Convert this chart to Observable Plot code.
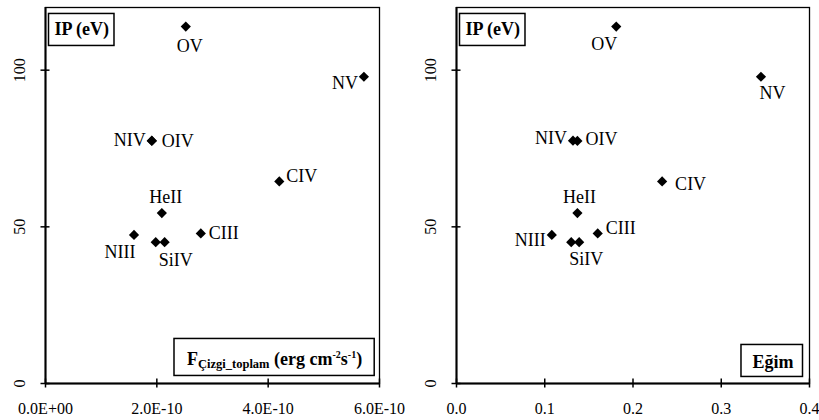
<!DOCTYPE html>
<html><head><meta charset="utf-8">
<script src="https://cdn.jsdelivr.net/npm/d3@7"></script>
<script src="https://cdn.jsdelivr.net/npm/@observablehq/plot@0.6"></script>
<style>
body{margin:0;background:#fff;}
#wrap{display:flex;width:819px;height:420px;overflow:hidden;}
#wrap svg{font-family:"Liberation Serif","Times New Roman",serif;overflow:visible;}
</style></head><body><div id="wrap"></div>
<script>
// ---- data ----
const ions = ["OV","NV","NIV","OIV","CIV","HeII","CIII","NIII","SiIV","SiIV"];
const ipValues = [113.9, 97.9, 77.5, 77.4, 64.5, 54.4, 47.9, 47.4, 45.1, 45.1];
const fluxValues = [2.52e-10, 5.72e-10, 1.91e-10, 1.91e-10, 4.20e-10, 2.09e-10, 2.79e-10, 1.59e-10, 1.98e-10, 2.14e-10];
const slopeValues = [0.181, 0.345, 0.132, 0.137, 0.233, 0.137, 0.160, 0.108, 0.130, 0.139];
const yTicks = [0, 50, 100];
const fluxTicks = [0, 2e-10, 4e-10, 6e-10];
const fluxTickLabels = ["0.0E+00","2.0E-10","4.0E-10","6.0E-10"];
const slopeTicks = [0, 0.1, 0.2, 0.3, 0.4];
const slopeTickLabels = ["0.0","0.1","0.2","0.3","0.4"];

// ---- label placement (style only) ----
const leftPlace = [
  ["middle", 4, 20], ["end", -6, 6], ["end", -6, 0], ["start", 10, 0], ["start", 7, -5],
  ["middle", 4, -16], ["start", 8, 0], ["middle", -14, 17], null, ["middle", 11, 18]
];
const rightPlace = [
  ["middle", -12, 17.5], ["middle", 11.5, 16], ["end", -6, -2], ["start", 8, -2], ["start", 13, 3],
  ["middle", 2, -16], ["start", 8, -5], ["end", -6, 5], null, ["middle", 7, 17]
];

const idx = d3.range(ions.length);

function panel({xValues, xTicks, xTickLabels, width, marginLeft, marginRight, place, boxLabel}) {
  const labelMarks = [];
  place.forEach((p, i) => {
    if (!p) return;
    labelMarks.push(Plot.text([i], {
      x: j => xValues[j], y: j => ipValues[j], text: j => ions[j],
      textAnchor: p[0], dx: p[1], dy: p[2], lineAnchor: "middle", fontSize: 18, fill: "black"
    }));
  });
  return Plot.plot({
    width, height: 420,
    marginTop: 7, marginBottom: 37, marginLeft, marginRight,
    x: {domain: [xTicks[0], xTicks[xTicks.length - 1]]},
    y: {domain: [0, 120]},
    style: {fontFamily: "'Liberation Serif','Times New Roman',serif", fontSize: "16px", color: "black", background: "white"},
    marks: [
      Plot.frame({stroke: "black", strokeWidth: 1.3}),
      Plot.axisX(xTicks, {tickSize: 9, dy: -4.5, tickPadding: 15, strokeWidth: 1.5,
        tickFormat: d => xTickLabels[xTicks.indexOf(d)], fontSize: 16, label: null}),
      Plot.axisY(yTicks, {tickSize: 9, dx: 4.5, strokeWidth: 1.5, tickFormat: () => "", label: null}),
      Plot.text(yTicks, {y: d => d, frameAnchor: "left", dx: -26, rotate: -90, text: d => String(d),
        fontSize: 16, textAnchor: "middle", lineAnchor: "middle"}),
      Plot.ruleX([xTicks[0]], {strokeWidth: 2}),
      Plot.ruleY([0], {strokeWidth: 2}),
      Plot.dot(idx, {x: i => xValues[i], y: i => ipValues[i], symbol: "diamond2", r: 4.6, fill: "black", stroke: "none"}),
      ...labelMarks,
      Plot.text(["IP (eV)"], {frameAnchor: "top-left", dx: 9, dy: 22.2, textAnchor: "start", lineAnchor: "middle",
        fontWeight: "bold", fontSize: 18, text: d => d}),
      Plot.text([boxLabel.text], {frameAnchor: "bottom-right", dx: boxLabel.dx, dy: boxLabel.dy, textAnchor: "end",
        lineAnchor: "middle", fontWeight: "bold", fontSize: 18, text: d => d})
    ]
  });
}

const wrap = document.getElementById("wrap");
const left = panel({xValues: fluxValues, xTicks: fluxTicks, xTickLabels: fluxTickLabels, width: 410,
  marginLeft: 45, marginRight: 31, place: leftPlace, boxLabel: {text: "FLUXLABEL", dx: -17.3, dy: -23.8}});
const right = panel({xValues: slopeValues, xTicks: slopeTicks, xTickLabels: slopeTickLabels, width: 409,
  marginLeft: 46, marginRight: 10, place: rightPlace, boxLabel: {text: "Eğim", dx: -16, dy: -20.8}});
wrap.appendChild(left);
wrap.appendChild(right);

function findText(svg, s) {
  return Array.from(svg.querySelectorAll("text")).find(t => t.textContent === s);
}
function boxIt(svg, t, padL, padR, padT, padB) {
  const b = t.getBBox();
  const m = svg.getScreenCTM().inverse().multiply(t.getScreenCTM());
  const x0 = b.x * m.a + m.e, y0 = b.y * m.d + m.f;
  const r = document.createElementNS("http://www.w3.org/2000/svg", "rect");
  r.setAttribute("x", x0 - padL);
  r.setAttribute("y", y0 - padT);
  r.setAttribute("width", b.width + padL + padR);
  r.setAttribute("height", b.height + padT + padB);
  r.setAttribute("fill", "white");
  r.setAttribute("stroke", "black");
  r.setAttribute("stroke-width", 1.5);
  const g = t.closest("g[aria-label]") || t.parentNode;
  g.parentNode.insertBefore(r, g);
}

// flux label with subscript / superscripts
const ft = findText(left, "FLUXLABEL");
ft.textContent = "";
const parts = [
  ["F", 18, 0], ["Çizgi_toplam", 12.5, 3], [" (erg cm", 18, -3], ["-2", 10, -7], ["s", 18, 7], ["-1", 10, -7], [")", 18, 7]
];
parts.forEach(([s, fs, dy]) => {
  const ts = document.createElementNS("http://www.w3.org/2000/svg", "tspan");
  ts.textContent = s;
  ts.setAttribute("font-size", fs);
  if (dy) ts.setAttribute("dy", dy);
  ft.appendChild(ts);
});

boxIt(left, findText(left, "IP (eV)"), 6, 5, 6, 5);
boxIt(right, findText(right, "IP (eV)"), 6, 5, 6, 5);
boxIt(left, ft, 13, 12, 11, 4);
boxIt(right, findText(right, "Eğim"), 11.5, 9, 8, 4);
</script></body></html>
